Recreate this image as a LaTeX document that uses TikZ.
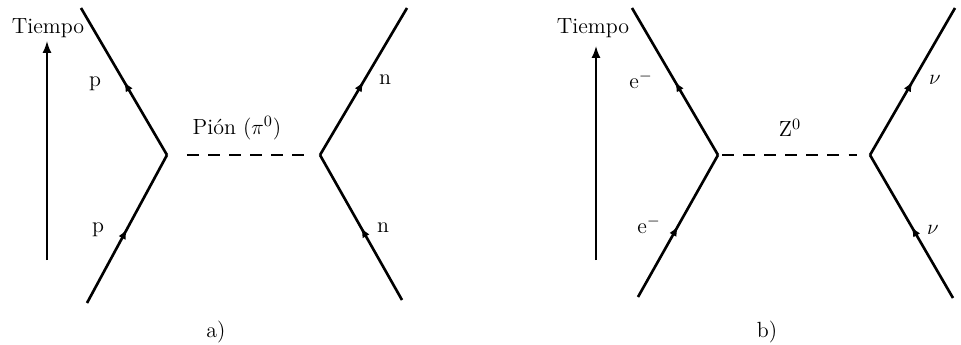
\documentclass[tikz,border=0pt]{standalone}
\usepackage{tikz}
\usetikzlibrary{arrows.meta,decorations.markings}

\begin{document}
\begin{tikzpicture}[x=0.02cm,y=-0.02cm,
  font=\fontsize{12.5}{15}\selectfont,
  fermion/.style={line width=1.5pt,postaction={decorate},
    decoration={markings,mark=at position 0.5 with {\arrow{Latex[length=2mm,width=1.6mm]}}}},
  boson/.style={line width=1.6pt,dash pattern=on 6.8pt off 5.2pt},
  timeaxis/.style={line width=0.9pt,-{Latex[length=2.4mm,width=1.8mm]}}]
  \useasboundingbox (0,0) rectangle (961,345);

  % a) proton - neutron
  \coordinate (vA) at (167,155);
  \coordinate (vB) at (320,155);
  \coordinate (pin) at (87,303);
  \coordinate (pout) at (81,8);
  \coordinate (nin) at (402,300);
  \coordinate (nout) at (407,8);
  \draw[fermion] (pin) -- (vA);
  \draw[fermion] (vA) -- (pout);
  \draw[fermion] (nin) -- (vB);
  \draw[fermion] (vB) -- (nout);
  \draw[boson,shorten <=0.4cm,shorten >=0.24cm] (vA) -- (vB);
  \node (pup) at (95,84) {p};
  \node (pdown) at (98,230) {p};
  \node (nup) at (385,80) {n};
  \node (ndown) at (383,228) {n};
  \node (pion) at (237,128) {Pi\'on ($\pi^0$)};
  \node (tA) at (48,28) {Tiempo};
  \coordinate (tA0) at (47,260);
  \coordinate (tA1) at (47,41);
  \draw[timeaxis] (tA0) -- (tA1);
  \node (capA) at (216,332) {a)};

  % b) electron - neutrino
  \coordinate (vC) at (718,155);
  \coordinate (vD) at (870,155);
  \coordinate (ein) at (638,297);
  \coordinate (eout) at (632,8);
  \coordinate (nuin) at (953,298);
  \coordinate (nuout) at (955,8);
  \draw[fermion] (ein) -- (vC);
  \draw[fermion] (vC) -- (eout);
  \draw[fermion] (nuin) -- (vD);
  \draw[fermion] (vD) -- (nuout);
  \draw[boson,shorten <=0.08cm,shorten >=0.26cm] (vC) -- (vD);
  \node (eup) at (641,80) {e$^-$};
  \node (edown) at (649,225) {e$^-$};
  \node (nuup) at (935,80) {$\nu$};
  \node (nudown) at (933,230) {$\nu$};
  \node (zboson) at (790,128) {Z$^0$};
  \node (tB) at (593,28) {Tiempo};
  \coordinate (tB0) at (596,260);
  \coordinate (tB1) at (596,46);
  \draw[timeaxis] (tB0) -- (tB1);
  \node (capB) at (767,332) {b)};
\end{tikzpicture}
\end{document}
